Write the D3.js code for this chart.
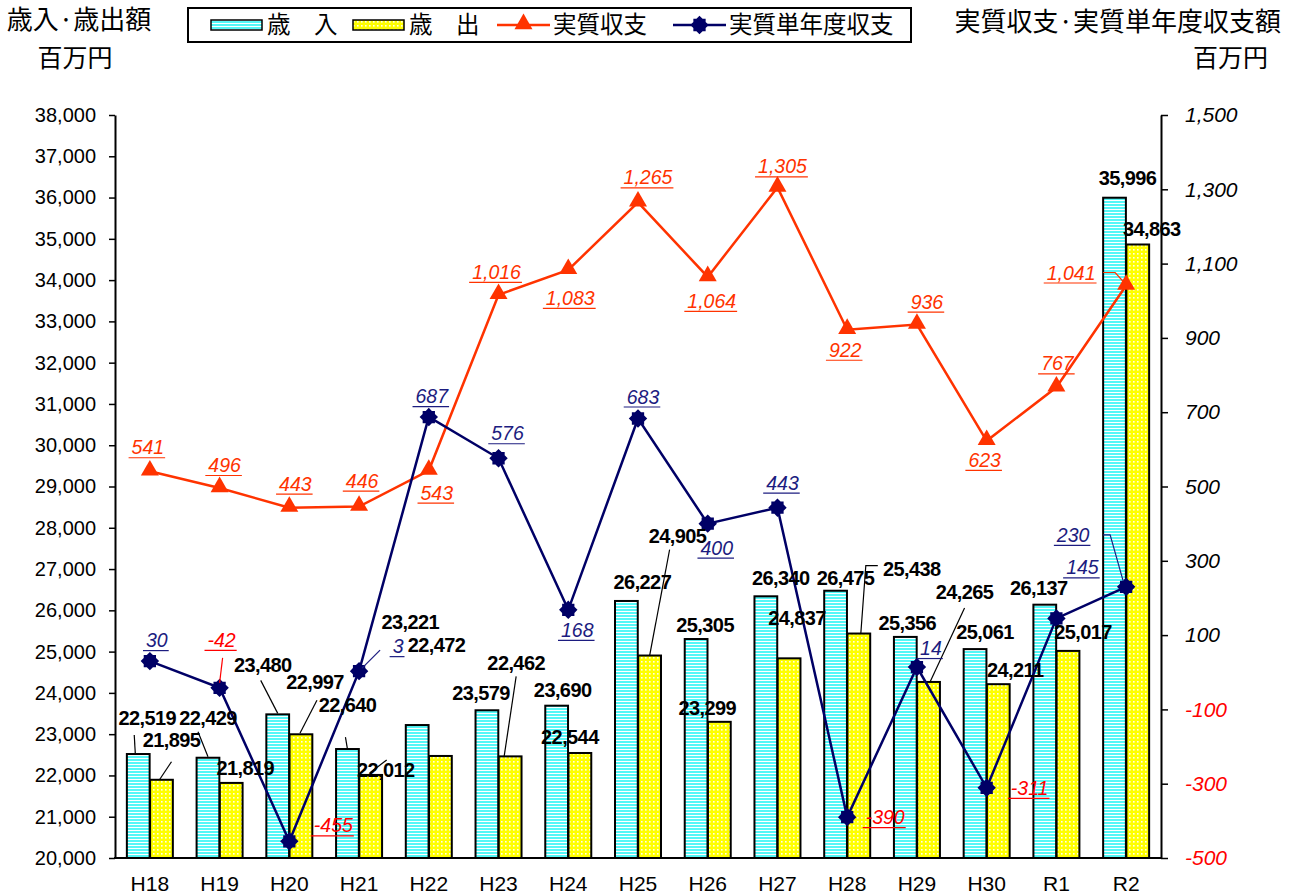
<!DOCTYPE html>
<html>
<head>
<meta charset="utf-8">
<script src="https://cdn.jsdelivr.net/npm/d3@7"></script>
<style>
  body { margin: 0; background: #fff; }
  svg { display: block; }
</style>
</head>
<body>
<svg id="chart" width="1293" height="896"></svg>
<script>
// ---- data ----
const categories = ["H18","H19","H20","H21","H22","H23","H24","H25","H26","H27","H28","H29","H30","R1","R2"];
const revenue     = [22519,22429,23480,22640,23221,23579,23690,26227,25305,26340,26475,25356,25061,26137,35996];
const expenditure = [21895,21819,22997,22012,22472,22462,22544,24905,23299,24837,25438,24265,24211,25017,34863];
const realBalance = [541,496,443,446,543,1016,1083,1265,1064,1305,922,936,623,767,1041];
const singleYearBalance = [30,-42,-455,3,687,576,168,683,400,443,-390,14,-311,145,230];
const leftTicks  = [20000,21000,22000,23000,24000,25000,26000,27000,28000,29000,30000,31000,32000,33000,34000,35000,36000,37000,38000];
const rightTicks = [-500,-300,-100,100,300,500,700,900,1100,1300,1500];

// ---- label placement (offsets from each mark's anchor) ----
const revLabelOffset = [[9,-36],[0,-40],[-15,-50],[0,-44],[-7,-103],[-6,-17],[6,-16],[16,-19],[9,-14],[15,-18],[10,-13],[2,-14],[10,-17],[-6,-17],[13,-20]];
const expLabelOffset = [[10,-40],[14,-15],[14,-52],[15,-5],[-4,-111],[6,-94],[-10,-16],[28,-120],[-12,-14],[8,-41],[53,-65],[36,-90],[17,-14],[15,-19],[14,-16]];
const revLeader = [[[-3,-1],[-4,-19]],[[0,-1],[-10,-26]],[[0,-1],[-17,-34]],[[0,0],[-2,-12]],null,null,null,null,null,null,null,null,null,null,null];
const expLeader = [[[-2,0],[10,-18]],null,[[-1,-1],[16,-34]],[[-1,-2],[16,-15]],null,[[-6,0],[6,-80]],null,[[0,0],[20,-106]],null,null,[[2,0],[7,-68],[19,-68]],[[1,1],[36,-74]],null,null,null];
const realLabelOffset = [[-2,-24],[5,-23],[6,-24],[3,-26],[8,22],[-2,-23],[2,28],[10,-25],[4,24],[5,-21],[-2,20],[10,-23],[-2,19],[1,-24],[-55,-13]];
const realLeader = [null,null,null,null,null,null,null,null,null,null,null,null,null,null,[[-23,-13],[-11,-13],[-2,-3]]];
const singleLabelOffset = [[7,-21],[2,-48],[44,-16],[39,-25],[3,-21],[9,-25],[9,20],[5,-22],[9,24],[5,-25],[38,0],[14,-19],[43,0],[26,-51],[-53,-52]];
const singleLeader = [null,[[0,-5],[3,-30]],null,[[3,-3],[21,-21]],null,null,null,null,null,null,null,null,null,null,[[-23,-52],[-16,-52],[-3,-6]]];

// ---- styling ----
const LATIN = "'Liberation Sans', Arial, sans-serif";
const CJK = "'Noto Sans CJK JP', sans-serif";
const ORANGE = "#FF3300";
const NAVY = "#000066";
const NAVY_TEXT = "#1C1C80";
const RED = "#FF0000";

const svg = d3.select("#chart");
const defs = svg.append("defs");

// horizontal white pinstripes on cyan
const pStripe = defs.append("pattern").attr("id","stripeCyan")
  .attr("patternUnits","userSpaceOnUse").attr("width",6).attr("height",3);
pStripe.append("rect").attr("width",6).attr("height",3).attr("fill","#55F7F7");
pStripe.append("rect").attr("y",2).attr("width",6).attr("height",1).attr("fill","#ffffff");

// white dot grid on yellow
const pDots = defs.append("pattern").attr("id","dotYellow")
  .attr("patternUnits","userSpaceOnUse").attr("width",4).attr("height",4);
pDots.append("rect").attr("width",4).attr("height",4).attr("fill","#FFFF00");
pDots.append("rect").attr("x",1).attr("y",1).attr("width",1.6).attr("height",1.6).attr("fill","#FFFFE8");

// ---- scales ----
const x = d3.scaleBand().domain(categories).range([115, 1161]);
const xs = d3.scaleBand().domain(["rev","exp"]).range([0, 46]).paddingInner(0.02);
const inset = (x.bandwidth() - 46) / 2;
const yL = d3.scaleLinear().domain([20000, 38000]).range([858, 115]);
const yR = d3.scaleLinear().domain([-500, 1500]).range([858, 115]);
const cx = c => x(c) + x.bandwidth() / 2;

const loc = d3.formatLocale({decimal: ".", thousands: ",", grouping: [3], currency: ["", ""], minus: "-"});
const fmt = loc.format(",");

// ---- bars ----
const barData = categories.flatMap((c, i) => [
  {c, i, key: "rev", v: revenue[i]},
  {c, i, key: "exp", v: expenditure[i]}
]);
svg.append("g").selectAll("rect").data(barData).join("rect")
  .attr("x", d => x(d.c) + inset + xs(d.key))
  .attr("width", xs.bandwidth())
  .attr("y", d => yL(d.v))
  .attr("height", d => yL(20000) - yL(d.v))
  .attr("fill", d => d.key === "rev" ? "url(#stripeCyan)" : "url(#dotYellow)")
  .attr("stroke", "#000").attr("stroke-width", 2);

// ---- axes ----
const axL = svg.append("g").attr("transform", "translate(115,0)")
  .call(d3.axisLeft(yL).tickValues(leftTicks).tickSize(6).tickSizeOuter(0).tickPadding(13).tickFormat(fmt));
axL.select(".domain").attr("stroke-width", 2);
axL.selectAll(".tick line").attr("stroke-width", 1.5);
axL.selectAll("text").attr("font-family", LATIN).attr("font-size", 20).attr("fill", "#000");

const axR = svg.append("g").attr("transform", "translate(1161,0)")
  .call(d3.axisRight(yR).tickValues(rightTicks).tickSize(7).tickSizeOuter(0).tickPadding(17).tickFormat(fmt));
axR.select(".domain").attr("stroke-width", 2);
axR.selectAll(".tick line").attr("stroke-width", 1.5);
axR.selectAll("text").attr("font-family", LATIN).attr("font-size", 21).attr("font-style", "italic")
  .attr("fill", d => d < 0 ? RED : "#000");

const axB = svg.append("g").attr("transform", "translate(0,858)")
  .call(d3.axisBottom(x).tickSize(0).tickSizeOuter(0).tickPadding(18));
axB.select(".domain").attr("stroke-width", 2).attr("d", "M114,0H1162");
axB.selectAll("text").attr("font-family", LATIN).attr("font-size", 21).attr("fill", "#000");

// ---- markers ----
const jaggedDiamond = {
  draw(ctx, size) {
    const r = Math.sqrt(size) / 2;
    const q = r / 3;
    const pts = [[0,-r],[q,-2*q],[2*q,-2*q],[2*q,-q],[r,0],[2*q,q],[2*q,2*q],[q,2*q],[0,r],[-q,2*q],[-2*q,2*q],[-2*q,q],[-r,0],[-2*q,-q],[-2*q,-2*q],[-q,-2*q]];
    ctx.moveTo(pts[0][0], pts[0][1]);
    for (let k = 1; k < pts.length; k++) ctx.lineTo(pts[k][0], pts[k][1]);
    ctx.closePath();
  }
};
const triPath = d3.symbol().type(d3.symbolTriangle).size(140)();
const diaPath = d3.symbol().type(jaggedDiamond).size(340)();

// ---- lines ----
const lineReal = d3.line().x((d, i) => cx(categories[i])).y(d => yR(d));
svg.append("path").datum(realBalance).attr("d", lineReal)
  .attr("fill", "none").attr("stroke", ORANGE).attr("stroke-width", 2.5);
svg.append("path").datum(singleYearBalance).attr("d", lineReal)
  .attr("fill", "none").attr("stroke", NAVY).attr("stroke-width", 2.5);

svg.append("g").selectAll("path").data(realBalance).join("path")
  .attr("d", triPath)
  .attr("transform", (d, i) => `translate(${cx(categories[i])},${yR(d) - 1})`)
  .attr("fill", ORANGE);
svg.append("g").selectAll("path").data(singleYearBalance).join("path")
  .attr("d", diaPath)
  .attr("transform", (d, i) => `translate(${cx(categories[i])},${yR(d)})`)
  .attr("fill", NAVY);

// ---- labels ----
const labelLayer = svg.append("g");

function leader(ax, ay, pts, color) {
  if (!pts) return;
  labelLayer.append("path")
    .attr("d", d3.line()(pts.map(p => [ax + p[0], ay + p[1]])))
    .attr("fill", "none").attr("stroke", color).attr("stroke-width", 1.2);
}

function barLabel(ax, ay, off, value) {
  labelLayer.append("text")
    .attr("x", ax + off[0]).attr("y", ay + off[1]).attr("dy", "0.36em")
    .attr("text-anchor", "middle")
    .attr("font-family", LATIN).attr("font-weight", "bold").attr("font-size", 20)
    .attr("letter-spacing", -0.6)
    .attr("fill", "#000").text(fmt(value));
}

function lineLabel(ax, ay, off, value, color) {
  const t = labelLayer.append("text")
    .attr("x", ax + off[0]).attr("y", ay + off[1]).attr("dy", "0.36em")
    .attr("text-anchor", "middle")
    .attr("font-family", LATIN).attr("font-style", "italic").attr("font-size", 19.5)
    .attr("fill", color).text(fmt(value));
  const w = t.node().getComputedTextLength();
  labelLayer.append("line")
    .attr("x1", ax + off[0] - w / 2 - 3).attr("x2", ax + off[0] + w / 2 + 1)
    .attr("y1", ay + off[1] + 10.5).attr("y2", ay + off[1] + 10.5)
    .attr("stroke", color).attr("stroke-width", 1.2);
}

const barX = (c, key) => x(c) + inset + xs(key) + xs.bandwidth() / 2;

categories.forEach((c, i) => {
  leader(barX(c, "rev"), yL(revenue[i]), revLeader[i], "#000");
  leader(barX(c, "exp"), yL(expenditure[i]), expLeader[i], "#000");
});
categories.forEach((c, i) => {
  leader(cx(c), yR(realBalance[i]), realLeader[i], ORANGE);
  const sc = singleYearBalance[i] < 0 ? RED : NAVY_TEXT;
  leader(cx(c), yR(singleYearBalance[i]), singleLeader[i], sc);
});
categories.forEach((c, i) => {
  barLabel(barX(c, "rev"), yL(revenue[i]), revLabelOffset[i], revenue[i]);
  barLabel(barX(c, "exp"), yL(expenditure[i]), expLabelOffset[i], expenditure[i]);
});
categories.forEach((c, i) => {
  lineLabel(cx(c), yR(realBalance[i]), realLabelOffset[i], realBalance[i], ORANGE);
  const sc = singleYearBalance[i] < 0 ? RED : NAVY_TEXT;
  lineLabel(cx(c), yR(singleYearBalance[i]), singleLabelOffset[i], singleYearBalance[i], sc);
});

// ---- axis titles ----
const titles = svg.append("g").attr("font-family", CJK).attr("fill", "#000");
titles.append("text").attr("x", 79).attr("y", 20).attr("dy", "0.36em").attr("text-anchor", "middle")
  .attr("font-size", 26).text("歳入·歳出額");
titles.append("text").attr("x", 75).attr("y", 58).attr("dy", "0.36em").attr("text-anchor", "middle")
  .attr("font-size", 25).text("百万円");
titles.append("text").attr("x", 1281).attr("y", 22).attr("dy", "0.36em").attr("text-anchor", "end")
  .attr("font-size", 26).text("実質収支·実質単年度収支額");
titles.append("text").attr("x", 1268).attr("y", 58).attr("dy", "0.36em").attr("text-anchor", "end")
  .attr("font-size", 25).text("百万円");

// ---- legend ----
const lg = svg.append("g");
lg.append("rect").attr("x", 188).attr("y", 8).attr("width", 723).attr("height", 34)
  .attr("fill", "#fff").attr("stroke", "#000").attr("stroke-width", 2);
const legendItems = [
  {type: "bar", fill: "url(#stripeCyan)", x: 211, label: "歳　入"},
  {type: "bar", fill: "url(#dotYellow)", x: 353, label: "歳　出"},
  {type: "line", color: ORANGE, marker: triPath, x: 497, label: "実質収支"},
  {type: "line", color: NAVY, marker: diaPath, x: 673, label: "実質単年度収支"}
];
legendItems.forEach(it => {
  if (it.type === "bar") {
    lg.append("rect").attr("x", it.x).attr("y", 20).attr("width", 51).attr("height", 10)
      .attr("fill", it.fill).attr("stroke", "#000").attr("stroke-width", 1.5);
  } else {
    lg.append("line").attr("x1", it.x).attr("x2", it.x + 53).attr("y1", 25).attr("y2", 25)
      .attr("stroke", it.color).attr("stroke-width", 2.5);
    lg.append("path").attr("d", it.marker).attr("fill", it.color)
      .attr("transform", `translate(${it.x + 26.5},${it.marker === triPath ? 24 : 25})`);
  }
  lg.append("text").attr("x", it.x + 56).attr("y", 25).attr("dy", "0.36em")
    .attr("font-family", CJK).attr("font-size", 23.5).attr("fill", "#000").text(it.label);
});
</script>
</body>
</html>
